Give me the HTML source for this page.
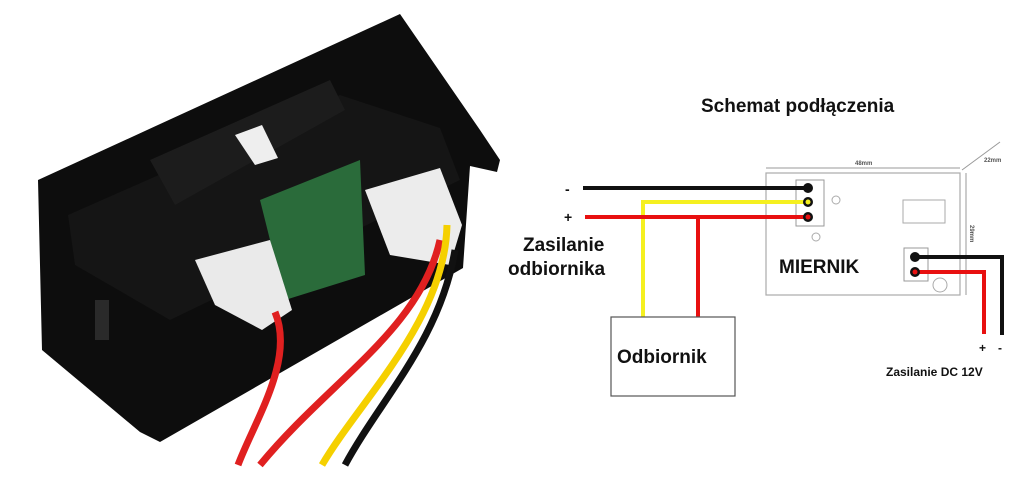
<!DOCTYPE html>
<html><head><style>
html,body{margin:0;padding:0;background:#fff;}
svg{display:block;}
text{font-family:"Liberation Sans",sans-serif;font-weight:bold;}
</style></head><body>
<svg width="1024" height="480" viewBox="0 0 1024 480">
<!-- photo approximation -->
<polygon points="38,180 400,14 480,130 500,160 497,172 470,166 463,268 160,442 140,432 42,350" fill="#0d0d0d"/>
<polygon points="68,215 340,95 440,128 460,180 170,320 75,265" fill="#151515"/>
<polygon points="150,160 330,80 345,110 175,205" fill="#1c1c1c"/>
<polygon points="235,135 262,125 278,158 255,165" fill="#eee"/>
<polygon points="260,200 360,160 365,275 285,300" fill="#2a6b3a"/>
<polygon points="195,260 270,240 292,310 262,330 215,305" fill="#eaeaea"/>
<polygon points="365,190 440,168 462,225 450,265 390,255" fill="#ececec"/>
<rect x="95" y="300" width="14" height="40" fill="#2a2a2a"/>
<path d="M275,312 C295,360 255,420 238,465" stroke="#e02020" stroke-width="7" fill="none"/>
<path d="M440,240 C420,330 330,380 260,465" stroke="#e02020" stroke-width="7" fill="none"/>
<path d="M455,250 C440,340 380,400 345,465" stroke="#111" stroke-width="7" fill="none"/>
<path d="M447,225 C445,320 360,400 322,465" stroke="#f5d000" stroke-width="7" fill="none"/>
<!-- diagram -->
<text x="701" y="112" font-size="19" fill="#111">Schemat podłączenia</text>
<rect x="766" y="173" width="194" height="122" fill="#fff" stroke="#aaa" stroke-width="1.2"/>
<line x1="766" y1="168" x2="960" y2="168" stroke="#999" stroke-width="1"/>
<text x="855" y="165" font-size="6" fill="#555" font-weight="normal">48mm</text>
<line x1="966" y1="173" x2="966" y2="295" stroke="#999" stroke-width="1"/>
<text x="970" y="225" font-size="6" fill="#555" font-weight="normal" transform="rotate(90 970 225)">29mm</text>
<line x1="962" y1="170" x2="1000" y2="142" stroke="#999" stroke-width="1"/>
<text x="984" y="162" font-size="6" fill="#555" font-weight="normal">22mm</text>
<rect x="796" y="180" width="28" height="46" fill="#fff" stroke="#999"/>
<rect x="903" y="200" width="42" height="23" fill="#fff" stroke="#aaa"/>
<circle cx="836" cy="200" r="4" fill="none" stroke="#aaa"/>
<circle cx="816" cy="237" r="4" fill="none" stroke="#aaa"/>
<circle cx="940" cy="285" r="7" fill="none" stroke="#aaa"/>
<rect x="904" y="248" width="24" height="33" fill="#fff" stroke="#999"/>
<text x="779" y="273" font-size="19" fill="#111">MIERNIK</text>
<polyline points="583,188 808,188" stroke="#111" stroke-width="4" fill="none"/>
<polyline points="643,317 643,202 808,202" stroke="#f5f020" stroke-width="4" fill="none"/>
<polyline points="585,217 808,217" stroke="#e81010" stroke-width="4" fill="none"/>
<polyline points="698,217 698,317" stroke="#e81010" stroke-width="4" fill="none"/>
<circle cx="808" cy="188" r="5" fill="#111"/>
<circle cx="808" cy="202" r="5" fill="#111"/><circle cx="808" cy="202" r="2.5" fill="#f5f020"/>
<circle cx="808" cy="217" r="5" fill="#111"/><circle cx="808" cy="217" r="2.5" fill="#e81010"/>
<polyline points="915,257 1002,257 1002,335" stroke="#111" stroke-width="4" fill="none"/>
<polyline points="915,272 984,272 984,334" stroke="#e81010" stroke-width="4" fill="none"/>
<circle cx="915" cy="257" r="5" fill="#111"/>
<circle cx="915" cy="272" r="5" fill="#111"/><circle cx="915" cy="272" r="2.5" fill="#e81010"/>
<text x="565" y="194" font-size="14" fill="#111">-</text>
<text x="564" y="222" font-size="14" fill="#111">+</text>
<text x="523" y="251" font-size="19" fill="#111">Zasilanie</text>
<text x="508" y="275" font-size="19" fill="#111">odbiornika</text>
<rect x="611" y="317" width="124" height="79" fill="#fff" stroke="#555" stroke-width="1.2"/>
<text x="617" y="363" font-size="19" fill="#111">Odbiornik</text>
<text x="979" y="352" font-size="12" fill="#111">+</text>
<text x="998" y="352" font-size="12" fill="#111">-</text>
<text x="886" y="376" font-size="12" fill="#111">Zasilanie DC 12V</text>
</svg>
</body></html>
